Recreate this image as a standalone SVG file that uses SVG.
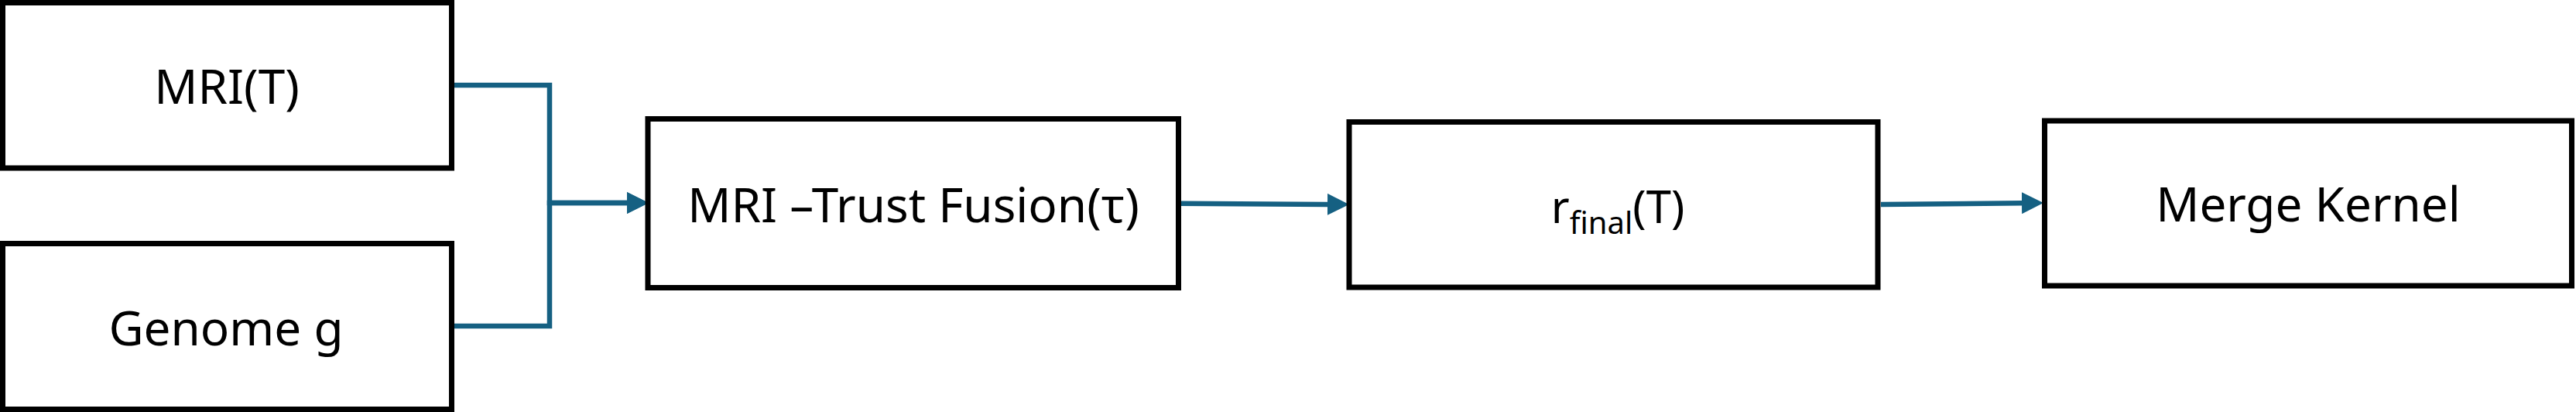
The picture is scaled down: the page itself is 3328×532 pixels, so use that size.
<svg xmlns="http://www.w3.org/2000/svg" width="3328" height="532" viewBox="0 0 3328 532">
  <style>
    .box { fill: #ffffff; stroke: #000000; stroke-width: 7; }
    .lbl { font-family: "Noto Sans", "Open Sans", "Noto Sans CJK KR", sans-serif; font-size: 62px; fill: #000000; text-anchor: middle; }
    .sub { font-size: 40px; }
    .conn { fill: none; stroke: #156082; stroke-width: 6.5; }
  </style>
  <defs>
    <marker id="arrow" markerUnits="userSpaceOnUse" markerWidth="28" markerHeight="28" viewBox="0 0 28 28" refX="0" refY="14" orient="auto">
      <path d="M0,0 L28,14 L0,28 z" fill="#156082"/>
    </marker>
  </defs>
  <rect width="3328" height="532" fill="#ffffff"/>

  <g id="connectors">
    <path class="conn" d="M587,110 H710 V262 H810" marker-end="url(#arrow)"/>
    <path class="conn" d="M587,421 H710 V262 H810" marker-end="url(#arrow)"/>
    <path class="conn" d="M1526,262.7 L1715,263.9" marker-end="url(#arrow)"/>
    <path class="conn" d="M2430,264 L2612,262.2" marker-end="url(#arrow)"/>
  </g>

  <g id="node-mri">
    <rect class="box" x="3.5" y="3.5" width="580" height="213.5"/>
    <text class="lbl" x="293" y="134">MRI(T)</text>
  </g>

  <g id="node-genome">
    <rect class="box" x="3.5" y="314.5" width="580" height="214"/>
    <text class="lbl" x="292" y="446">Genome g</text>
  </g>

  <g id="node-fusion">
    <rect class="box" x="837" y="153.5" width="685.5" height="218"/>
    <text class="lbl" x="1180" y="287">MRI –Trust Fusion(τ)</text>
  </g>

  <g id="node-rfinal">
    <rect class="box" x="1743" y="157.5" width="683" height="213.5"/>
    <text class="lbl" x="2090" y="288" style="font-size:58px">r<tspan class="sub" dy="14">final</tspan><tspan dy="-14">(T)</tspan></text>
  </g>

  <g id="node-merge">
    <rect class="box" x="2641.5" y="156" width="681" height="213"/>
    <text class="lbl" x="2982" y="286">Merge Kernel</text>
  </g>
</svg>
